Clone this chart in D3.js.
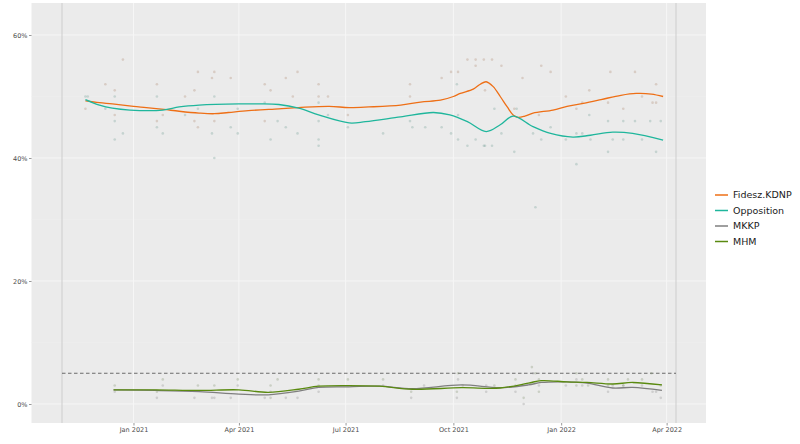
<!DOCTYPE html>
<html><head><meta charset="utf-8">
<script src="https://cdn.jsdelivr.net/npm/d3@7"></script>
<style>body{margin:0;background:#fff}svg{display:block;font-family:"DejaVu Sans",sans-serif}</style>
</head><body><svg id="c" width="800" height="444"></svg>
<script>
// ---- data ----
const seriesNames = ["Fidesz.KDNP","Opposition","MKKP","MHM"];
const seriesColors = ["#EE6F16","#1FB69C","#7F7F7F","#5A8A10"];
const xTickLabels = ["2021-01-01","2021-04-01","2021-07-01","2021-10-01","2022-01-01","2022-04-01"];
const yTickValues = [0, 0.2, 0.4, 0.6];
const markerDates = ["2020-11-01","2022-04-09"];
const threshold = 0.05;

const fideszTrend = [["2020-11-21",49.3],["2020-12-03",49.0],["2020-12-14",48.8],["2021-01-01",48.4],["2021-01-12",48.2],["2021-01-27",47.9],["2021-02-09",47.6],["2021-02-26",47.3],["2021-03-11",47.2],["2021-03-23",47.4],["2021-04-09",47.7],["2021-05-05",48.0],["2021-05-22",48.2],["2021-06-17",48.4],["2021-07-04",48.2],["2021-07-21",48.3],["2021-08-17",48.6],["2021-09-03",49.1],["2021-09-20",49.4],["2021-10-01",50.0],["2021-10-07",50.5],["2021-10-18",51.2],["2021-10-24",52.0],["2021-10-29",52.4],["2021-11-04",51.6],["2021-11-10",50.0],["2021-11-16",48.3],["2021-11-21",47.0],["2021-11-25",46.6],["2021-12-01",46.8],["2021-12-08",47.3],["2021-12-25",47.8],["2022-01-06",48.4],["2022-01-20",48.9],["2022-02-04",49.5],["2022-02-21",50.2],["2022-03-06",50.5],["2022-03-19",50.4],["2022-03-29",50.0]];
const oppTrend = [["2020-11-21",49.5],["2020-12-03",48.6],["2020-12-14",48.1],["2020-12-29",47.8],["2021-01-26",47.8],["2021-02-09",48.3],["2021-02-26",48.6],["2021-04-01",48.8],["2021-04-18",48.8],["2021-05-05",48.7],["2021-05-22",48.1],["2021-06-08",47.0],["2021-07-04",45.7],["2021-07-18",45.9],["2021-08-17",46.7],["2021-09-14",47.4],["2021-09-28",47.0],["2021-10-13",45.9],["2021-10-29",44.3],["2021-11-10",45.4],["2021-11-21",46.8],["2021-12-08",45.1],["2021-12-23",44.0],["2022-01-11",43.4],["2022-01-26",43.7],["2022-02-14",44.2],["2022-03-03",44.0],["2022-03-29",42.9]];
const mkkpTrend = [["2020-12-15",2.3],["2021-01-20",2.2],["2021-02-26",2.0],["2021-04-01",1.6],["2021-04-26",1.5],["2021-05-22",2.1],["2021-06-08",2.7],["2021-07-04",2.8],["2021-07-30",2.9],["2021-08-27",2.5],["2021-10-08",3.1],["2021-11-10",2.65],["2021-12-04",3.1],["2021-12-15",3.5],["2022-01-06",3.6],["2022-01-23",3.4],["2022-02-14",2.6],["2022-03-03",2.7],["2022-03-28",2.2]];
const mhmTrend = [["2020-12-15",2.3],["2021-01-20",2.3],["2021-02-26",2.2],["2021-04-01",2.3],["2021-04-26",1.9],["2021-05-22",2.4],["2021-06-08",2.9],["2021-07-04",3.0],["2021-07-30",2.9],["2021-08-27",2.4],["2021-10-08",2.65],["2021-11-10",2.6],["2021-12-04",3.4],["2021-12-15",3.8],["2022-01-06",3.6],["2022-01-23",3.5],["2022-02-14",3.25],["2022-03-03",3.5],["2022-03-28",3.1]];

const fideszPolls = [["2020-11-21",48],["2020-12-08",52],["2020-12-16",51],["2020-12-23",56],["2020-12-16",47],["2021-01-21",52],["2021-01-21",46],["2021-01-26",47],["2021-02-14",50],["2021-02-22",51],["2021-02-25",54],["2021-02-22",46],["2021-02-25",45],["2021-03-09",53],["2021-03-11",54],["2021-03-11",46],["2021-03-25",53],["2021-04-23",52],["2021-04-23",46],["2021-04-28",51],["2021-05-11",53],["2021-05-17",50],["2021-05-21",54],["2021-06-08",52],["2021-06-08",50],["2021-06-16",50],["2021-07-03",47],["2021-08-25",52],["2021-08-25",50],["2021-09-21",53],["2021-09-29",54],["2021-10-05",54],["2021-10-13",56],["2021-10-20",56],["2021-10-20",55],["2021-10-27",56],["2021-10-28",51],["2021-11-03",56],["2021-11-11",55],["2021-11-22",48],["2021-11-29",53],["2021-12-13",47],["2021-12-15",55],["2021-12-23",54],["2022-01-05",50],["2022-01-14",48],["2022-01-19",49],["2022-01-25",51],["2022-02-10",49],["2022-02-12",54],["2022-02-23",48],["2022-03-05",54],["2022-03-11",50],["2022-03-20",49],["2022-03-23",49],["2022-03-23",52]];
const oppPolls = [["2020-11-21",50],["2020-11-23",50],["2020-12-08",48],["2020-12-16",50],["2020-12-16",46],["2020-12-16",43],["2020-12-23",44],["2021-01-21",50],["2021-01-21",45],["2021-01-26",44],["2021-02-14",47],["2021-02-25",48],["2021-03-09",44],["2021-03-11",50],["2021-03-11",40],["2021-03-25",45],["2021-03-31",48],["2021-03-31",44],["2021-04-23",49],["2021-04-28",43],["2021-05-04",46],["2021-05-11",45],["2021-05-21",44],["2021-06-08",49],["2021-06-08",46],["2021-06-08",43],["2021-06-08",42],["2021-06-16",47],["2021-07-03",45],["2021-08-02",44],["2021-08-27",45],["2021-08-25",46],["2021-09-07",45],["2021-09-21",45],["2021-09-29",44],["2021-10-04",52],["2021-10-05",47],["2021-10-05",43],["2021-10-13",42],["2021-10-20",43],["2021-10-27",42],["2021-10-28",42],["2021-11-03",42],["2021-11-05",48],["2021-11-11",44],["2021-11-24",48],["2021-11-22",41],["2021-12-08",44],["2021-12-10",32],["2021-12-15",43],["2021-12-23",45],["2022-01-05",43],["2022-01-14",44],["2022-01-14",39],["2022-01-19",44],["2022-01-25",47],["2022-01-26",43],["2022-02-10",46],["2022-02-10",41],["2022-02-14",43],["2022-02-23",46],["2022-02-23",43],["2022-03-05",46],["2022-03-11",43],["2022-03-18",46],["2022-03-23",41],["2022-03-27",46]];
const mkkpPolls = [["2020-12-16",2],["2021-01-21",1],["2021-01-26",3],["2021-02-22",1],["2021-03-09",1],["2021-03-11",1],["2021-03-25",1],["2021-03-31",3],["2021-04-23",1],["2021-04-28",2],["2021-05-11",1],["2021-05-21",1],["2021-06-08",2],["2021-06-08",3],["2021-08-02",3],["2021-08-26",1],["2021-09-06",3],["2021-10-04",1],["2021-10-05",4],["2021-10-29",3],["2021-10-29",2],["2021-11-23",2],["2021-11-30",0],["2021-12-08",5],["2021-12-13",3],["2022-01-05",3],["2022-01-14",4],["2022-01-19",3],["2022-02-10",2],["2022-02-14",3],["2022-02-23",3],["2022-03-11",3],["2022-03-20",2],["2022-03-23",2],["2022-03-27",1]];
const mhmPolls = [["2020-12-16",3],["2021-01-21",2],["2021-01-26",4],["2021-02-25",3],["2021-03-11",3],["2021-03-31",4],["2021-04-28",3],["2021-04-28",1],["2021-05-04",4],["2021-06-08",4],["2021-07-03",4],["2021-08-02",4],["2021-08-26",2],["2021-10-04",2],["2021-10-05",5],["2021-10-09",3],["2021-11-05",3],["2021-11-23",4],["2021-11-23",3],["2021-11-30",1],["2021-12-07",6],["2021-12-10",5],["2021-12-13",4],["2021-12-13",2],["2022-01-14",5],["2022-01-14",3],["2022-01-19",4],["2022-01-24",3],["2022-02-10",4],["2022-02-10",3],["2022-02-27",4],["2022-02-23",3],["2022-03-11",4],["2022-03-19",5],["2022-03-27",3]];

const trends = [fideszTrend, oppTrend, mkkpTrend, mhmTrend];
const polls = [fideszPolls, oppPolls, mkkpPolls, mhmPolls];

// ---- drawing ----
const parse = d3.timeParse("%Y-%m-%d");
const svg = d3.select("#c");
const x = d3.scaleTime().domain(markerDates.map(parse)).range([62, 676]);
const y = d3.scaleLinear().domain([0, 0.6]).range([404, 35]);
const pL = 31.5, pR = 706, pT = 3, pB = 423;

svg.append("rect").attr("x", pL).attr("y", pT).attr("width", pR - pL).attr("height", pB - pT).attr("fill", "#EBEBEB");

// minor grid
const minorY = [0.1, 0.3, 0.5];
svg.selectAll(".gmy").data(minorY).join("line").attr("x1", pL).attr("x2", pR)
  .attr("y1", d => y(d)).attr("y2", d => y(d)).attr("stroke", "#EFEFEF").attr("stroke-width", 0.5);
// major grid
svg.selectAll(".gy").data(yTickValues).join("line").attr("x1", pL).attr("x2", pR)
  .attr("y1", d => y(d)).attr("y2", d => y(d)).attr("stroke", "#F6F6F6").attr("stroke-width", 1);
svg.selectAll(".gx").data(xTickLabels.map(parse)).join("line").attr("y1", pT).attr("y2", pB)
  .attr("x1", d => x(d)).attr("x2", d => x(d)).attr("stroke", "#F6F6F6").attr("stroke-width", 1);

// marker lines
svg.selectAll(".vl").data(markerDates.map(parse)).join("line").attr("y1", pT).attr("y2", pB)
  .attr("x1", d => x(d)).attr("x2", d => x(d)).attr("stroke", "#CDCDCD").attr("stroke-width", 1);

// threshold
svg.append("line").attr("x1", x(parse(markerDates[0]))).attr("x2", x(parse(markerDates[1])))
  .attr("y1", y(threshold)).attr("y2", y(threshold)).attr("stroke", "#333").attr("stroke-width", 0.7)
  .attr("stroke-dasharray", "3.5,2.5");

// points
polls.forEach((p, i) => {
  const col = d3.interpolateRgb(seriesColors[i], "#8f8f8f")(0.7);
  svg.append("g").selectAll("circle").data(p).join("circle")
    .attr("cx", d => x(parse(d[0]))).attr("cy", d => y(d[1] / 100)).attr("r", 1.3)
    .attr("fill", col).attr("opacity", 0.3);
});

// lines
const line = d3.line().x(d => x(parse(d[0]))).y(d => y(d[1] / 100)).curve(d3.curveCatmullRom.alpha(0.5));
trends.forEach((t, i) => {
  svg.append("path").datum(t).attr("d", line).attr("fill", "none")
    .attr("stroke", seriesColors[i]).attr("stroke-width", 1.3);
});

// axes
const gx = svg.append("g").attr("transform", `translate(0,${pB})`)
  .call(d3.axisBottom(x).tickValues(xTickLabels.map(parse)).tickFormat(d3.timeFormat("%b %Y")).tickSize(2.5).tickPadding(1.5));
const gy = svg.append("g").attr("transform", `translate(${pL},0)`)
  .call(d3.axisLeft(y).tickValues(yTickValues).tickFormat(d3.format(".0%")).tickSize(2.5).tickPadding(1.5));
[gx, gy].forEach(g => {
  g.select(".domain").remove();
  g.selectAll("line").attr("stroke", "#333").attr("stroke-width", 0.5);
  g.selectAll("text").attr("fill", "#4D4D4D").attr("font-size", "6.5px").attr("font-family", "DejaVu Sans");
});

// legend
const lg = svg.append("g");
seriesNames.forEach((n, i) => {
  const yy = 195 + i * 15.5;
  lg.append("line").attr("x1", 715).attr("x2", 728).attr("y1", yy).attr("y2", yy)
    .attr("stroke", seriesColors[i]).attr("stroke-width", 1.5);
  lg.append("text").attr("x", 733).attr("y", yy).attr("dy", "0.35em").attr("font-size", "9.5px")
    .attr("fill", "#1A1A1A").text(n);
});
</script></body></html>
